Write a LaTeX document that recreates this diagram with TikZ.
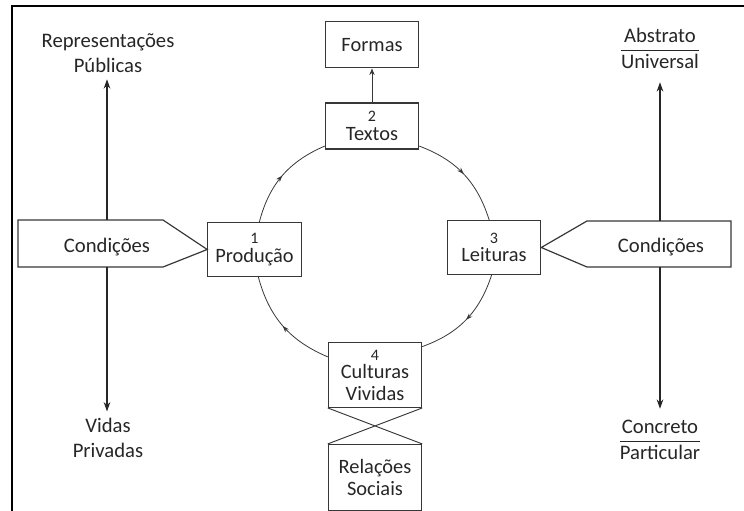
\documentclass[tikz,border=0pt]{standalone}
\usepackage{fontspec}
\setmainfont{Carlito}
\usepackage{tikz}
\usetikzlibrary{positioning,arrows.meta,decorations.markings}
\definecolor{inkgray}{RGB}{55,55,55}
\newcommand{\nr}[1]{{\fontsize{12}{12}\selectfont #1}}

\begin{document}
\begin{tikzpicture}[x=0.75pt,y=-0.75pt,
  box/.style={draw=inkgray,line width=0.9pt,align=center,inner sep=0pt,minimum width=70pt,text=black!85,font=\fontsize{15.3}{17}\selectfont},
  lbl/.style={align=center,inner sep=0pt,outer sep=5pt,text=black!85,font=\fontsize{15.5}{19}\selectfont},
  cyc/.style={draw=inkgray,line width=0.6pt,bend left=26,postaction={decorate},
    decoration={markings,mark=at position 0.5 with {\arrow{Stealth[length=5pt,width=3.5pt]}}}},
  vline/.style={-{Stealth[length=7pt,width=5pt]},line width=1pt,black!85}]
\useasboundingbox (0,0) rectangle (744,511);
% frame
\draw[line width=1.5pt] (12,511) -- (12,6) -- (744,6);

% cycle boxes
\node[box,minimum height=34.5pt] (textos) at (372,126) {\nr{2}\\[-3pt]Textos};
\node[box,minimum height=34.5pt,above=25.5pt of textos] (formas) {Formas};
\node[box,minimum height=40.5pt] (producao) at (254.5,249.5) {\nr{1}\\[-3pt]Produção};
\node[box,minimum height=40.5pt] (leituras) at (494,247.5) {\nr{3}\\[-3pt]Leituras};
\node[box,minimum height=48.5pt] (culturas) at (375,375) {\nr{4}\\[-3pt]Culturas\\[-1pt]Vividas};
\node[box,minimum height=49.5pt,below=27pt of culturas] (relacoes) {Relações\\Sociais};

\draw[-{Stealth[length=5pt,width=4pt]},inkgray,line width=0.7pt] (textos) -- (formas);
\draw[inkgray,line width=0.7pt] (culturas.south west) -- (relacoes.north east)
  (culturas.south east) -- (relacoes.north west);

% the circuit
\draw[cyc] (producao.80) to (textos.203);
\draw[cyc] (textos.337) to (leituras.100);
\draw[cyc] (leituras.265) to (culturas.31);
\draw[cyc] (culturas.159) to (producao.-82);

% left conditions
\draw[inkgray,line width=0.9pt] (18,220) -- (163,220) -- (producao.west) -- (163,267) -- (18,267) -- cycle;
\node[lbl] (condL) at (107,247) {Condições};
\node[lbl] (publicas) at (108,53) {Representações\\Públicas};
\node[lbl] (privadas) at (108,438) {Vidas\\Privadas};
\coordinate (lTop) at (107,220);
\coordinate (lBot) at (107,267);
\draw[vline] (lTop) -- (lTop |- publicas.south);
\draw[vline] (lBot) -- (lBot |- privadas.north);

% right conditions
\draw[inkgray,line width=0.9pt] (731,221) -- (587,221) -- (leituras.east) -- (587,267) -- (731,267) -- cycle;
\node[lbl] (condR) at (661,247) {Condições};
\node[lbl] (abstrato) at (660,50) {\begin{tabular}{@{}c@{}}Abstrato\\\hline Universal\end{tabular}};
\node[lbl] (concreto) at (660,441) {\begin{tabular}{@{}c@{}}Concreto\\\hline Particular\end{tabular}};
\coordinate (rTop) at (660,221);
\coordinate (rBot) at (660,267);
\draw[vline] (rTop) -- (rTop |- abstrato.south);
\draw[vline] (rBot) -- (rBot |- concreto.north);
\end{tikzpicture}
\end{document}
